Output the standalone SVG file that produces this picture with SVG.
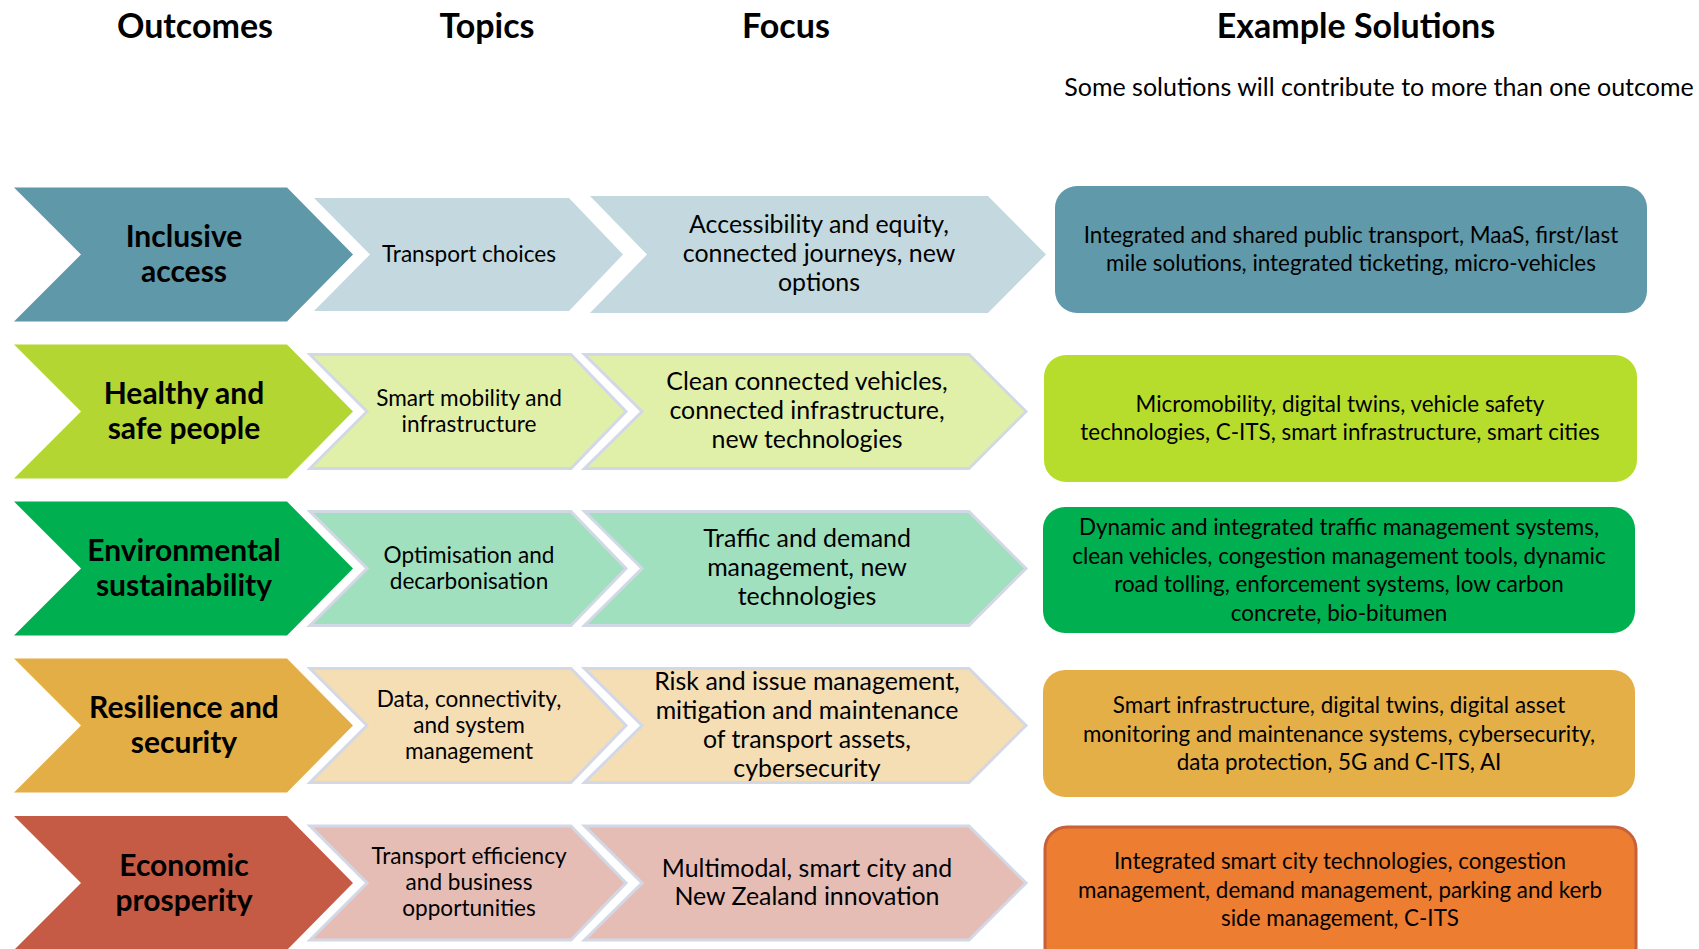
<svg xmlns="http://www.w3.org/2000/svg" width="1699" height="949" viewBox="0 0 1699 949">
<style>
text{font-family:Lato,"Liberation Sans",sans-serif;fill:#000;text-anchor:middle}
.title{font-size:34px;font-weight:700}
.sub{font-size:25px}
.out{font-size:30px;font-weight:700}
.top{font-size:22.6px}
.foc{font-size:24.9px}
.sol{font-size:22.4px}
.bd{stroke:#D3D8E6;stroke-width:3}
</style>
<rect width="1699" height="949" fill="#fff"/>
<g id="headers">
<text class="title" x="195" y="38">Outcomes</text>
<text class="title" x="487" y="38">Topics</text>
<text class="title" x="786" y="38">Focus</text>
<text class="title" x="1356" y="38">Example Solutions</text>
<text class="sub" x="1379" y="96">Some solutions will contribute to more than one outcome</text>
</g>
<g id="connectors"/>
<!-- Row 1 -->
<g id="outcome-1">
<polygon points="14,187.5 287,187.5 353,254.5 287,321.5 14,321.5 81,254.5" fill="#5E98A9"/>
<text class="out" x="184" y="247">Inclusive</text>
<text class="out" x="184" y="282">access</text>
</g>
<g id="topic-1">
<polygon points="314,198 569,198 623,254.5 569,311 314,311 370,254.5" fill="#C3D9DF"/>
<text class="top" x="469" y="261.5">Transport choices</text>
</g>
<g id="focus-1">
<polygon points="590,196 988,196 1046,254.5 988,313 590,313 647,254.5" fill="#C3D9DF"/>
<text class="foc" x="819" y="233">Accessibility and equity,</text>
<text class="foc" x="819" y="261.5">connected journeys, new</text>
<text class="foc" x="819" y="290.5">options</text>
</g>
<g id="solution-1">
<rect x="1055" y="186" width="592" height="127" rx="22" fill="#5F99AA"/>
<text class="sol" x="1351" y="243">Integrated and shared public transport, MaaS, first/last</text>
<text class="sol" x="1351" y="271">mile solutions, integrated ticketing, micro-vehicles</text>
</g>
<!-- Row 2 -->
<g id="outcome-2">
<polygon points="14,344.5 287,344.5 353,411.5 287,478.5 14,478.5 81,411.5" fill="#B4D633"/>
<text class="out" x="184" y="404">Healthy and</text>
<text class="out" x="184" y="439">safe people</text>
</g>
<g id="topic-2">
<polygon class="bd" points="310,354.5 571,354.5 626,411.5 571,468.5 310,468.5 367,411.5" fill="#E0F0A9"/>
<text class="top" x="469" y="405.5">Smart mobility and</text>
<text class="top" x="469" y="431.5">infrastructure</text>
</g>
<g id="focus-2">
<polygon class="bd" points="584.5,354.5 969,354.5 1026,411.5 969,468.5 584.5,468.5 642,411.5" fill="#E0F0A9"/>
<text class="foc" x="807" y="390">Clean connected vehicles,</text>
<text class="foc" x="807" y="418.5">connected infrastructure,</text>
<text class="foc" x="807" y="447.5">new technologies</text>
</g>
<g id="solution-2">
<rect x="1044" y="355" width="593" height="127" rx="22" fill="#B7DD2C"/>
<text class="sol" x="1340" y="411.5">Micromobility, digital twins, vehicle safety</text>
<text class="sol" x="1340" y="440">technologies, C-ITS, smart infrastructure, smart cities</text>
</g>
<!-- Row 3 -->
<g id="outcome-3">
<polygon points="14,501.5 287,501.5 353,568.5 287,635.5 14,635.5 81,568.5" fill="#00B050"/>
<text class="out" x="184" y="561">Environmental</text>
<text class="out" x="184" y="596">sustainability</text>
</g>
<g id="topic-3">
<polygon class="bd" points="310,511.5 571,511.5 626,568.5 571,625.5 310,625.5 367,568.5" fill="#A0E0BE"/>
<text class="top" x="469" y="562.5">Optimisation and</text>
<text class="top" x="469" y="588.5">decarbonisation</text>
</g>
<g id="focus-3">
<polygon class="bd" points="584.5,511.5 969,511.5 1026,568.5 969,625.5 584.5,625.5 642,568.5" fill="#A0E0BE"/>
<text class="foc" x="807" y="547">Traffic and demand</text>
<text class="foc" x="807" y="575.5">management, new</text>
<text class="foc" x="807" y="604.5">technologies</text>
</g>
<g id="solution-3">
<rect x="1043" y="507" width="592" height="126" rx="22" fill="#00B050"/>
<text class="sol" x="1339" y="535">Dynamic and integrated traffic management systems,</text>
<text class="sol" x="1339" y="563.5">clean vehicles, congestion management tools, dynamic</text>
<text class="sol" x="1339" y="592">road tolling, enforcement systems, low carbon</text>
<text class="sol" x="1339" y="620.5">concrete, bio-bitumen</text>
</g>
<!-- Row 4 -->
<g id="outcome-4">
<polygon points="14,658.5 287,658.5 353,725.5 287,792.5 14,792.5 81,725.5" fill="#E4AE46"/>
<text class="out" x="184" y="718">Resilience and</text>
<text class="out" x="184" y="753">security</text>
</g>
<g id="topic-4">
<polygon class="bd" points="310,668.5 571,668.5 626,725.5 571,782.5 310,782.5 367,725.5" fill="#F5DDB4"/>
<text class="top" x="469" y="706.5">Data, connectivity,</text>
<text class="top" x="469" y="732.5">and system</text>
<text class="top" x="469" y="758.5">management</text>
</g>
<g id="focus-4">
<polygon class="bd" points="584.5,668.5 969,668.5 1026,725.5 969,782.5 584.5,782.5 642,725.5" fill="#F5DDB4"/>
<text class="foc" x="807" y="689.5">Risk and issue management,</text>
<text class="foc" x="807" y="718.5">mitigation and maintenance</text>
<text class="foc" x="807" y="747.5">of transport assets,</text>
<text class="foc" x="807" y="776.5">cybersecurity</text>
</g>
<g id="solution-4">
<rect x="1043" y="670" width="592" height="127" rx="22" fill="#E5AF48"/>
<text class="sol" x="1339" y="712.5">Smart infrastructure, digital twins, digital asset</text>
<text class="sol" x="1339" y="741.5">monitoring and maintenance systems,  cybersecurity,</text>
<text class="sol" x="1339" y="770">data protection, 5G and C-ITS, AI</text>
</g>
<!-- Row 5 -->
<g id="outcome-5">
<polygon points="14,816 287,816 353,883 287,950 14,950 81,883" fill="#C55B44"/>
<text class="out" x="184" y="875.5">Economic</text>
<text class="out" x="184" y="910.5">prosperity</text>
</g>
<g id="topic-5">
<polygon class="bd" points="310,826 571,826 626,883 571,940 310,940 367,883" fill="#E6BDB5"/>
<text class="top" x="469" y="864">Transport efficiency</text>
<text class="top" x="469" y="890">and business</text>
<text class="top" x="469" y="916">opportunities</text>
</g>
<g id="focus-5">
<polygon class="bd" points="584.5,826 969,826 1026,883 969,940 584.5,940 642,883" fill="#E6BDB5"/>
<text class="foc" x="807" y="877">Multimodal, smart city and</text>
<text class="foc" x="807" y="905">New Zealand innovation</text>
</g>
<g id="solution-5">
<rect x="1045" y="827" width="591" height="145" rx="22" fill="#ED7D31" stroke="#C8603A" stroke-width="3"/>
<text class="sol" x="1340" y="869">Integrated smart city technologies, congestion</text>
<text class="sol" x="1340" y="897.5">management, demand management, parking and kerb</text>
<text class="sol" x="1340" y="926">side management, C-ITS</text>
</g>
</svg>
